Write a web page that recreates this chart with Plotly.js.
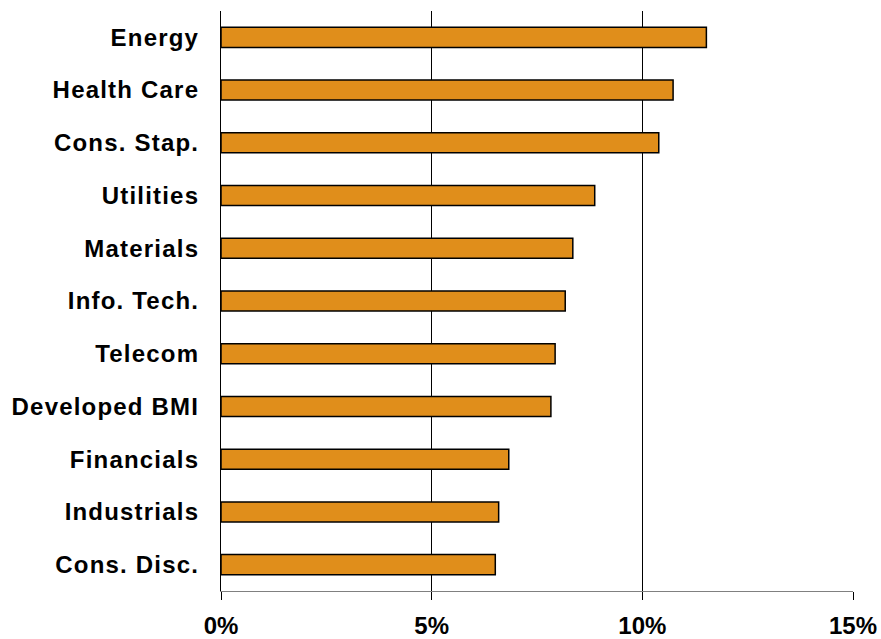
<!DOCTYPE html>
<html>
<head>
<meta charset="utf-8">
<script src="https://cdn.plot.ly/plotly-3.0.1.min.js"></script>
<style>html,body{margin:0;padding:0;background:#fff;}#chart{width:881px;height:639px;}
#chart .ytick text{letter-spacing:1.2px;}</style>
</head>
<body>
<div id="chart"></div>
<script>
var sectors = ["Energy", "Health Care", "Cons. Stap.", "Utilities", "Materials", "Info. Tech.", "Telecom", "Developed BMI", "Financials", "Industrials", "Cons. Disc."];
var returnsPct = [11.52, 10.73, 10.39, 8.87, 8.35, 8.17, 7.93, 7.83, 6.83, 6.59, 6.51];
var xTickVals = [0, 5, 10, 15];
var xTickText = ["0%", "5%", "10%", "15%"];

var trace = {
  type: "bar",
  orientation: "h",
  y: sectors,
  x: returnsPct,
  marker: {color: "#E08E1B", line: {color: "#000000", width: 1.5}},
  hoverinfo: "x+y"
};

var layout = {
  width: 881, height: 639,
  margin: {l: 221, r: 28, t: 11, b: 48},
  paper_bgcolor: "#ffffff", plot_bgcolor: "#ffffff",
  bargap: 0.62,
  showlegend: false,
  font: {family: "Liberation Sans, Arial, sans-serif", color: "#000"},
  xaxis: {
    range: [0, 15],
    tickvals: xTickVals, ticktext: xTickText,
    showgrid: true, gridcolor: "#000000", gridwidth: 1,
    zeroline: false,
    showline: true, linecolor: "#808080", linewidth: 1,
    ticks: "outside", ticklen: 8, tickcolor: "#000", tickwidth: 1,
    ticklabelstandoff: 5,
    tickfont: {size: 24, family: "Liberation Sans, Arial, sans-serif", weight: "bold", color: "#000"},
    fixedrange: true
  },
  yaxis: {
    type: "category",
    autorange: "reversed",
    showgrid: false, zeroline: false,
    showline: true, linecolor: "#000000", linewidth: 1,
    ticks: "",
    ticklabelstandoff: 16,
    tickfont: {size: 24, family: "Liberation Sans, Arial, sans-serif", weight: "bold", color: "#000"},
    fixedrange: true
  }
};

Plotly.newPlot("chart", [trace], layout, {displayModeBar: false, staticPlot: true});
</script>
</body>
</html>
